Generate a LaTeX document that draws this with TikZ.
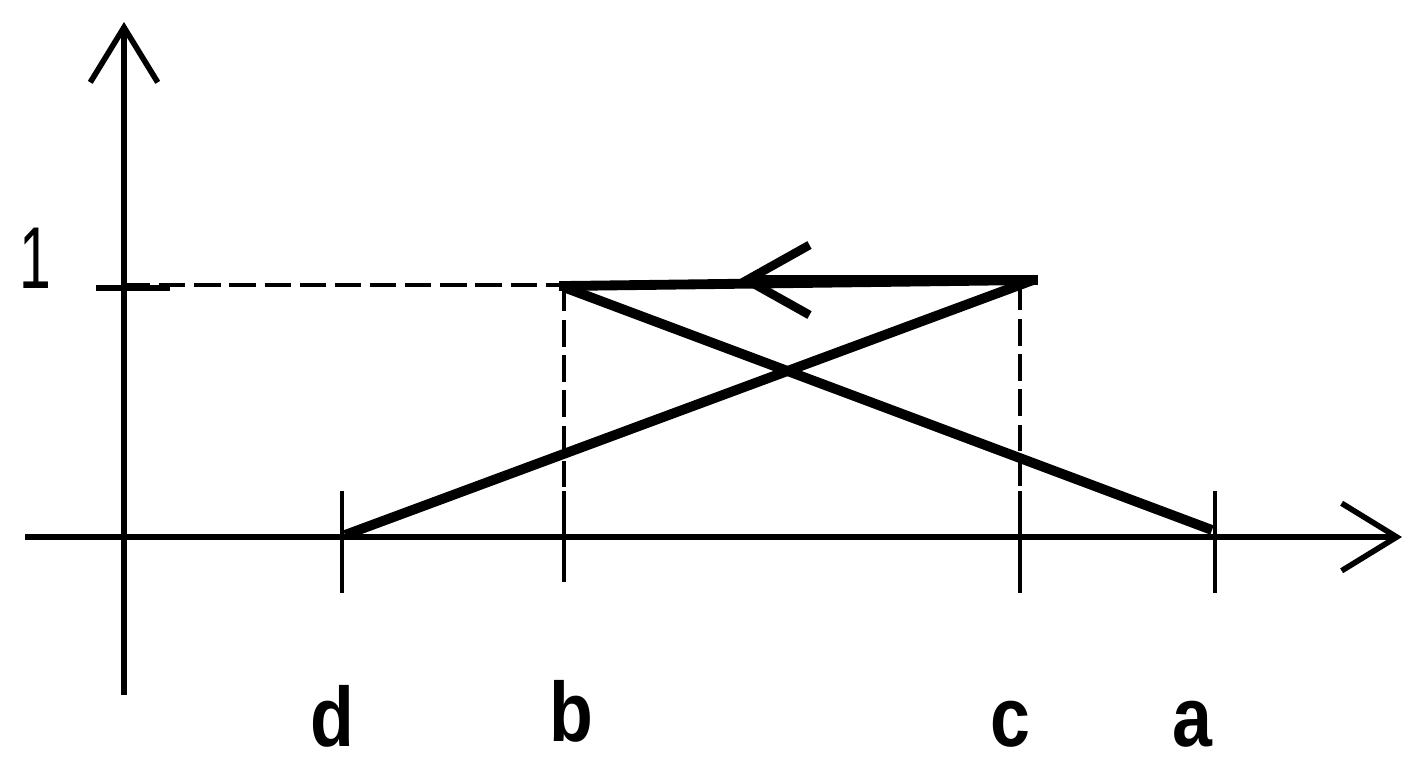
\documentclass[tikz,border=0pt]{standalone}
\usepackage{fontspec}
\setmainfont{Liberation Sans}
\usepackage{tikz}
\usetikzlibrary{arrows.meta,calc}

\tikzset{
  axis/.style={line width=2.9pt, -{Straight Barb[length=1.1cm,width=1.35cm,line width=3.2pt]}},
  tickmark/.style={line width=2.3pt},
  guide/.style={line width=2.3pt, dash pattern=on 15pt off 5pt},
  graph/.style={line width=5.6pt},
  lbl/.style={font=\fontsize{48}{50}\selectfont\bfseries, xscale=0.85, inner sep=0pt, anchor=base}
}

\begin{document}
\begin{tikzpicture}[x=0.02cm,y=-0.02cm]
    \useasboundingbox (0,0) rectangle (1422,775);
    % axes
    \coordinate (x_0) at (25,537);
    \coordinate (x_1) at (1402,537);
    \coordinate (y_0) at (124,695);
    \coordinate (y_1) at (124,22);
    \draw[axis] (x_0) -- (x_1);
    \draw[axis] (y_0) -- (y_1);
    % points on the axis and at level one
    \coordinate (p_d) at (345,535);
    \coordinate (p_b) at (564,537);
    \coordinate (p_c) at (1020,537);
    \coordinate (p_a) at (1212,530);
    \coordinate (t_b) at (566,288);
    \coordinate (t_c) at (1033,280);
    \coordinate (t_1) at (124,285);
    \coordinate (m_1) at (738,280);
    % ticks
    \draw[tickmark] (342,491) -- (342,593);
    \draw[tickmark] (564,491) -- (564,582);
    \draw[tickmark] (1020,491) -- (1020,593);
    \draw[tickmark] (1215,491) -- (1215,593);
    \draw[line width=3.4pt] (96,288) -- (170,288);
    % guides
    \draw[guide] (t_1) -- (564,285);
    \draw[guide] (564,285) -- (p_b);
    \draw[guide] (1020,284) -- (p_c);
    % graph
    \draw[graph] (p_d) -- (t_c);
    \draw[graph] (t_b) -- (p_a);
    \draw[graph, line cap=rect] (t_c) -- (564,286);
    \draw[graph, -{Straight Barb[length=1.25cm,width=1.4cm,line width=5pt]}] (t_c) -- (m_1);
    % labels
    \node[font=\fontsize{50}{52}\selectfont, inner sep=0pt, anchor=base, xscale=0.65] (l_1) at (35,288) {1};
    \node[lbl] (l_d) at (332,746) {d};
    \node[lbl] (l_b) at (571,741) {b};
    \node[lbl] (l_c) at (1010,746) {c};
    \node[lbl] (l_a) at (1192,746) {a};
\end{tikzpicture}
\end{document}
